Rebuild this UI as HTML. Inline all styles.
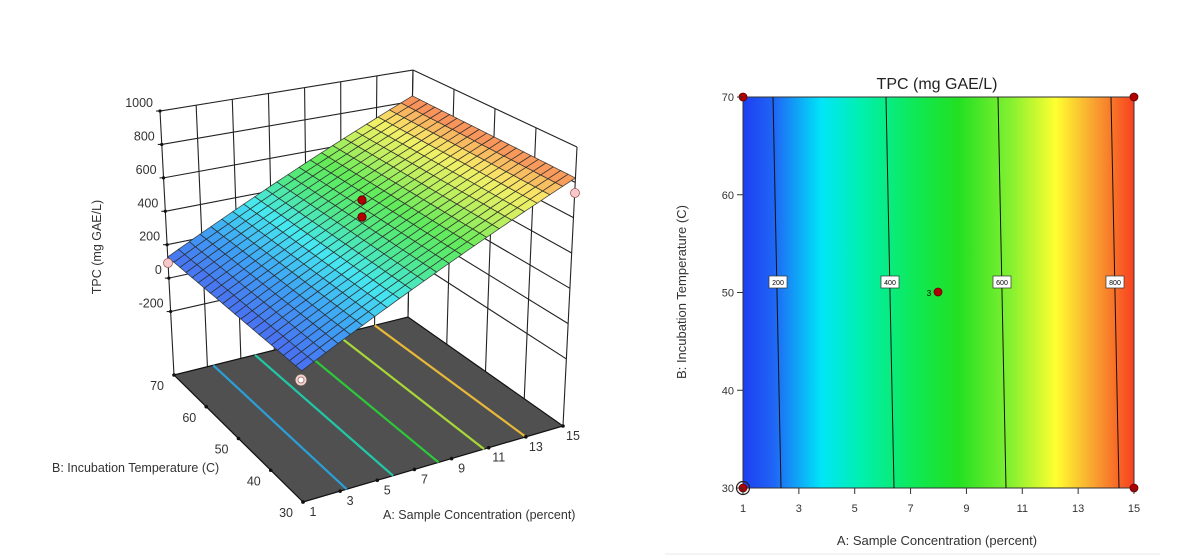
<!DOCTYPE html>
<html><head><meta charset="utf-8"><style>
html,body{margin:0;padding:0;background:#fff;width:1182px;height:559px;overflow:hidden}
svg{display:block;font-family:"Liberation Sans",sans-serif}
</style></head><body>
<svg id="s" width="1182" height="559" viewBox="0 0 1182 559" xmlns="http://www.w3.org/2000/svg">
<defs>
<linearGradient id="cg" x1="0" y1="0" x2="1" y2="0">
<stop offset="0" stop-color="#1d3ff2"/>
<stop offset="0.08" stop-color="#1f66f5"/>
<stop offset="0.2" stop-color="#00e5f8"/>
<stop offset="0.3" stop-color="#00f0b0"/>
<stop offset="0.45" stop-color="#10e850"/>
<stop offset="0.55" stop-color="#22e022"/>
<stop offset="0.68" stop-color="#80f030"/>
<stop offset="0.8" stop-color="#ffff30"/>
<stop offset="0.9" stop-color="#f8a030"/>
<stop offset="1" stop-color="#f84020"/>
</linearGradient>
</defs>
<g id="left"></g>
<g id="right">
<rect x="743" y="97" width="391" height="391" fill="url(#cg)" stroke="#333" stroke-width="1"/>
<g stroke="#111" stroke-width="1" fill="none">
<line x1="773" y1="97" x2="781" y2="488"/>
<line x1="886" y1="97" x2="894" y2="488"/>
<line x1="998" y1="97" x2="1006" y2="488"/>
<line x1="1111" y1="97" x2="1119" y2="488"/>
</g>
<g font-size="7" text-anchor="middle">
<rect x="769" y="276" width="18" height="12" fill="#fff" stroke="#333" stroke-width="0.7"/><text x="778" y="285">200</text>
<rect x="881" y="276" width="18" height="12" fill="#fff" stroke="#333" stroke-width="0.7"/><text x="890" y="285">400</text>
<rect x="993" y="276" width="18" height="12" fill="#fff" stroke="#333" stroke-width="0.7"/><text x="1002" y="285">600</text>
<rect x="1106" y="276" width="18" height="12" fill="#fff" stroke="#333" stroke-width="0.7"/><text x="1115" y="285">800</text>
</g>
<text x="929" y="296" font-size="8" text-anchor="middle">3</text>
<g fill="#b00000" stroke="#600" stroke-width="0.8">
<circle cx="938" cy="292" r="4"/><circle cx="743" cy="97" r="4"/><circle cx="1134" cy="97" r="4"/><circle cx="1134" cy="488" r="4"/><circle cx="743" cy="488" r="4"/>
</g>
<circle cx="743" cy="488" r="6.5" fill="none" stroke="#222" stroke-width="1.2"/>
<g id="rticks" stroke="#333" stroke-width="1"></g>
<g id="rlabels" font-size="11" fill="#333"></g>
<text x="937" y="89" font-size="16" text-anchor="middle" fill="#222">TPC (mg GAE/L)</text>
<text x="937" y="545" font-size="13" text-anchor="middle" fill="#333">A: Sample Concentration (percent)</text>
<text transform="translate(686,292) rotate(-90)" font-size="13" text-anchor="middle" fill="#333">B: Incubation Temperature (C)</text>
<line x1="665" y1="554" x2="1160" y2="554" stroke="#e8e8e8" stroke-width="1"/>
</g>
</svg>
<script>
(function(){
var NS="http://www.w3.org/2000/svg";
function el(p,tag,a,txt){var e=document.createElementNS(NS,tag);for(var k in a)e.setAttribute(k,a[k]);if(txt!=null)e.textContent=txt;p.appendChild(e);return e;}
var rt=document.getElementById('rticks'),rl=document.getElementById('rlabels');
for(var i=0;i<8;i++){var x=743+i*391/7;el(rt,'line',{x1:x,y1:488,x2:x,y2:494});el(rl,'text',{x:x,y:512,'text-anchor':'middle'},String(1+2*i));}
for(var j=0;j<5;j++){var y=488-j*391/4;el(rt,'line',{x1:737,y1:y,x2:743,y2:y});el(rl,'text',{x:734,y:y+4,'text-anchor':'end'},String(30+10*j));}
var L=document.getElementById('left');
var FL={F:[303,502],R:[563,426],K:[408,317],B:[174,375]};
var TP={F:[300,202],R:[577,147],K:[413,70],B:[160,111]};
function bil(c,u,v){var x=c.F[0]*(1-u)*(1-v)+c.R[0]*u*(1-v)+c.K[0]*u*v+c.B[0]*(1-u)*v;var y=c.F[1]*(1-u)*(1-v)+c.R[1]*u*(1-v)+c.K[1]*u*v+c.B[1]*(1-u)*v;return [x,y];}
function P(u,v,t){var f=bil(FL,u,v),g=bil(TP,u,v);return [f[0]+t*(g[0]-f[0]),f[1]+t*(g[1]-f[1])];}
function line(a,b,att){var o={x1:a[0],y1:a[1],x2:b[0],y2:b[1],stroke:'#222','stroke-width':1.1};for(var k in att)o[k]=att[k];return el(L,'line',o);}
function tz(z){return 0.367+z/1580;}
for(var k=0;k<=7;k++){var u=k/7;line(P(u,1,0),P(u,1,1));}
for(var z=-200;z<=1000;z+=200){line(P(0,1,tz(z)),P(1,1,tz(z)));}
for(var k=0;k<=4;k++){var v=k/4;line(P(1,v,0),P(1,v,1));}
for(var z=-200;z<=1000;z+=200){line(P(1,0,tz(z)),P(1,1,tz(z)));}
for(var z=-200;z<=1000;z+=200){var p=P(0,1,tz(z));line([p[0]-4,p[1]],p);el(L,'circle',{cx:p[0],cy:p[1],r:1.6,fill:'#111'});el(L,'text',{x:p[0]-7,y:p[1]-4,'text-anchor':'end','font-size':12.5,fill:'#333'},String(z));}
el(L,'text',{transform:'translate(101,247) rotate(-90)','text-anchor':'middle','font-size':12.5,fill:'#333'},'TPC (mg GAE/L)');
var f=[P(0,0,0),P(1,0,0),P(1,1,0),P(0,1,0)];
el(L,'polygon',{points:f.map(function(p){return p.join(',')}).join(' '),fill:'#505050',stroke:'#111','stroke-width':1.2});
var fl=[[3.35,'#2a9fd8'],[5.85,'#20c8a8'],[8.3,'#2cc83a'],[10.75,'#a8d838'],[13.0,'#e8b838']];
fl.forEach(function(c){var u=(c[0]-1)/14;line(P(u,0,0),P(u,1,0),{stroke:c[1],'stroke-width':2.2});});
for(var i=0;i<8;i++){var u=i/7,p=P(u,0,0);el(L,'circle',{cx:p[0],cy:p[1],r:1.8,fill:'#111'});el(L,'text',{x:p[0]+10,y:p[1]+14,'text-anchor':'middle','font-size':12.5,fill:'#333'},String(1+2*i));}
for(var j=0;j<5;j++){var v=j/4,p=P(0,v,0);el(L,'circle',{cx:p[0],cy:p[1],r:1.8,fill:'#111'});el(L,'text',{x:p[0]-10,y:p[1]+15,'text-anchor':'end','font-size':12.5,fill:'#333'},String(30+10*j));}
el(L,'text',{x:52,y:472,'font-size':12.5,fill:'#333'},'B: Incubation Temperature (C)');
el(L,'text',{x:383,y:519,'font-size':12.5,fill:'#333'},'A: Sample Concentration (percent)');
var tc={F:0.437,R:0.889,K:0.895,B:0.447};
function ts(u,v){return tc.F*(1-u)*(1-v)+tc.R*u*(1-v)+tc.K*u*v+tc.B*(1-u)*v;}
var stops=[[0,[74,108,240]],[0.18,[62,160,245]],[0.35,[70,232,240]],[0.5,[80,232,130]],[0.62,[100,235,90]],[0.76,[200,240,96]],[0.86,[248,240,104]],[1,[248,128,88]]];
function col(s){s=Math.max(0,Math.min(1,s));for(var i=1;i<stops.length;i++){if(s<=stops[i][0]){var a=stops[i-1],b=stops[i],r=(s-a[0])/(b[0]-a[0]);return 'rgb('+[0,1,2].map(function(k){return Math.round(a[1][k]+r*(b[1][k]-a[1][k]))}).join(',')+')';}}return 'rgb(248,128,88)';}
var N=22;
for(var i=0;i<N;i++)for(var j=0;j<N;j++){var u0=i/N,u1=(i+1)/N,v0=j/N,v1=(j+1)/N;
var pts=[P(u0,v0,ts(u0,v0)),P(u1,v0,ts(u1,v0)),P(u1,v1,ts(u1,v1)),P(u0,v1,ts(u0,v1))];
var tm=ts((u0+u1)/2,(v0+v1)/2);
el(L,'polygon',{points:pts.map(function(p){return p[0].toFixed(1)+','+p[1].toFixed(1)}).join(' '),fill:col((tm-0.437)/(0.895-0.437)),stroke:'#2a2a2a','stroke-width':0.8,'stroke-opacity':0.85});}
el(L,'circle',{cx:362,cy:200,r:4.2,fill:'#b00000',stroke:'#500','stroke-width':0.8});
el(L,'circle',{cx:362,cy:217,r:4.2,fill:'#b00000',stroke:'#500','stroke-width':0.8});
el(L,'circle',{cx:168,cy:263,r:4.5,fill:'#f8c8c8',stroke:'#a06060','stroke-width':0.8});
el(L,'circle',{cx:575,cy:193,r:4.5,fill:'#f8c8c8',stroke:'#a06060','stroke-width':0.8});
el(L,'circle',{cx:301,cy:380,r:6,fill:'#f0d0d0',stroke:'#554','stroke-width':1});
el(L,'circle',{cx:301,cy:380,r:3,fill:'#fff',stroke:'#b08080','stroke-width':1});
})();
</script>
</body></html>
